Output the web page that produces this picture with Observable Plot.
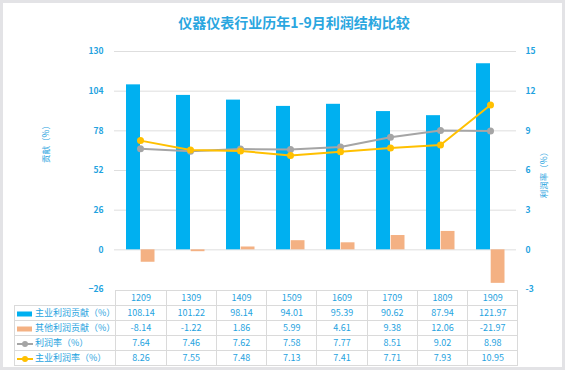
<!DOCTYPE html>
<html><head><meta charset="utf-8">
<script src="https://cdn.jsdelivr.net/npm/d3@7"></script>
<script src="https://cdn.jsdelivr.net/npm/@observablehq/plot@0.6"></script>
<style>
body{margin:0;}
#wrap{position:relative;width:565px;height:370px;background:#e3e3e6;overflow:hidden;font-family:"Noto Sans CJK SC","Noto Sans",sans-serif;color:#1fa3e0;}
#panel{position:absolute;left:3px;top:3px;width:559px;height:364px;background:#fff;}
#title{position:absolute;left:0;top:12px;width:588px;text-align:center;font-size:14px;font-weight:bold;color:#2aa6df;}
#chart{position:absolute;left:0;top:0;}
.ytitle{position:absolute;font-size:8.5px;white-space:nowrap;transform:translate(-50%,-50%) rotate(-90deg);}
#tbl{position:absolute;left:14px;top:290px;border-collapse:collapse;table-layout:fixed;font-size:9px;color:#1fa3e0;}
#tbl td{border:1px solid #dadada;height:14px;padding:0;text-align:center;line-height:14px;}
#tbl td.lab{text-align:left;white-space:nowrap;padding-left:2px;}
#tbl td.blank{border:none;}
.sw{display:inline-block;vertical-align:middle;margin-right:2px;}
</style></head>
<body>
<div id="wrap">
  <div id="panel"></div>
  <div id="title">仪器仪表行业历年1-9月利润结构比较</div>
  <div id="chart"></div>
  <div class="ytitle" style="left:45px;top:142px;">贡献（%）</div>
  <div class="ytitle" style="left:543px;top:173px;">利润率（%）</div>
  <table id="tbl"></table>
</div>
<script>
const categories = ["1209","1309","1409","1509","1609","1709","1809","1909"];
const mainContribution = [108.14,101.22,98.14,94.01,95.39,90.62,87.94,121.97];
const otherContribution = [-8.14,-1.22,1.86,5.99,4.61,9.38,12.06,-21.97];
const profitRate = [7.64,7.46,7.62,7.58,7.77,8.51,9.02,8.98];
const mainProfitRate = [8.26,7.55,7.48,7.13,7.41,7.71,7.93,10.95];
const leftTicks = [-26,0,26,52,78,104,130];
const seriesNames = ["主业利润贡献（%）","其他利润贡献（%）","利润率（%）","主业利润率（%）"];

const BLUE="#00b0f0", ORANGE="#f4b183", GRAY="#a5a5a5", YELLOW="#ffc000", TXT="#1fa3e0";
const k = 130/15; // right axis (rate) -> left axis scale
const rows = categories.map((c,i)=>({cat:c, main:mainContribution[i], other:otherContribution[i],
  rate:profitRate[i]*k, mrate:mainProfitRate[i]*k}));

const chart = Plot.plot({
  width:565, height:300, marginTop:51, marginBottom:11, marginLeft:114, marginRight:49,
  x:{type:"band", domain:categories, padding:0, axis:null},
  y:{domain:[-26,130], axis:null},
  style:{background:"transparent", fontFamily:"'Noto Sans CJK SC','Noto Sans',sans-serif", fontSize:"8.5px", color:TXT},
  marks:[
    Plot.ruleY(leftTicks.filter(t=>t>=0), {stroke:"#dedede", strokeWidth:1}),
    Plot.axisY(leftTicks, {anchor:"left", tickSize:0, tickPadding:11, fill:TXT, fontWeight:"bold", label:null}),
    Plot.axisY(leftTicks, {anchor:"right", tickSize:0, tickPadding:9, fill:TXT, fontWeight:"bold", label:null,
      tickFormat:d=>String(Math.round(d/k))}),
    Plot.barY(rows, {x:"cat", y:"main", fill:BLUE, insetLeft:11, insetRight:25}),
    Plot.barY(rows, {x:"cat", y:"other", fill:ORANGE, insetLeft:25.7, insetRight:10.5}),
    Plot.line(rows, {x:"cat", y:"rate", stroke:GRAY, strokeWidth:2}),
    Plot.dot(rows, {x:"cat", y:"rate", fill:GRAY, r:3.5}),
    Plot.line(rows, {x:"cat", y:"mrate", stroke:YELLOW, strokeWidth:2}),
    Plot.dot(rows, {x:"cat", y:"mrate", fill:YELLOW, r:3.5})
  ]
});
document.getElementById("chart").appendChild(chart);

// data table
function swatch(type, color){
  if(type==="bar"){
    return `<svg class="sw" width="16" height="8"><rect x="0" y="1.5" width="15" height="5" fill="${color}"/></svg>`;
  }
  return `<svg class="sw" width="16" height="8"><line x1="0" y1="4" x2="16" y2="4" stroke="${color}" stroke-width="2"/><circle cx="8" cy="4" r="3" fill="${color}"/></svg>`;
}
const series = [
  {name:seriesNames[0], vals:mainContribution, sw:swatch("bar",BLUE)},
  {name:seriesNames[1], vals:otherContribution, sw:swatch("bar",ORANGE)},
  {name:seriesNames[2], vals:profitRate, sw:swatch("line",GRAY)},
  {name:seriesNames[3], vals:mainProfitRate, sw:swatch("line",YELLOW)}
];
let html = `<colgroup><col style="width:100px">${categories.map(()=>'<col style="width:50.25px">').join("")}</colgroup>`;
html += `<tr><td class="blank"></td>${categories.map(c=>`<td>${c}</td>`).join("")}</tr>`;
for(const s of series){
  html += `<tr><td class="lab">${s.sw}${s.name}</td>${s.vals.map(v=>`<td>${v.toFixed(2)}</td>`).join("")}</tr>`;
}
document.getElementById("tbl").innerHTML = html;
</script>
</body></html>
